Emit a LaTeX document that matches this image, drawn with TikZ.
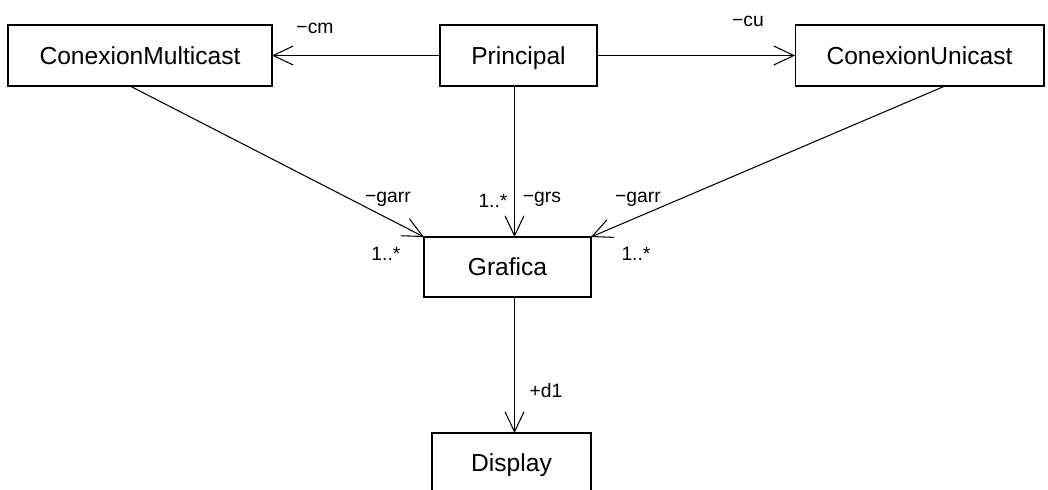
\documentclass[tikz,border=0pt]{standalone}
\usepackage{fontspec}
\setmainfont{Liberation Sans}
\usepackage{tikz}
\usetikzlibrary{arrows.meta,positioning,calc}

\begin{document}
\begin{tikzpicture}[x=0.02cm, y=-0.02cm,
    classbox/.style={draw, line width=0.6pt, inner sep=0pt, outer sep=0pt, minimum height=1.22cm,
        font=\fontsize{14}{16}\selectfont, text height=10pt, text depth=0pt},
    lbl/.style={anchor=base, inner sep=0pt, font=\fontsize{11}{13}\selectfont},
    assoc/.style={line width=0.6pt, -{Straight Barb[length=4mm, width=3.8mm]}}]
    \clip (0, 0) rectangle (1048, 490);
    
    \node[classbox, minimum width=5.28cm] (cm) at (140, 55.5) {ConexionMulticast};
    \node[classbox, minimum width=3.14cm] (pr) at (518.5, 55.5) {Principal};
    \node[classbox, minimum width=4.98cm] (cu) at (919.5, 55.5) {ConexionUnicast};
    \node[classbox, minimum width=3.34cm, minimum height=1.2cm] (gr) at (507.5, 267) {Grafica};
    \node[classbox, minimum width=3.18cm, minimum height=1.2cm] (dp) at (511.5, 463) {Display};
    \coordinate (mx) at (514.5, 0);
    
    \draw[assoc] (pr.west) -- (cm.east);
    \draw[assoc] (pr.east) -- (cu.west);
    \draw[assoc] ($(cm.south)+(-10, 0)$) -- (gr.north west);
    \draw[assoc] (pr.south -| mx) -- (gr.north -| mx);
    \draw[assoc] ($(cu.south)+(25.5, 0)$) -- (gr.north east);
    \draw[assoc] (gr.south -| mx) -- (dp.north -| mx);
    
    \node[lbl] (lcm) at (315, 33) {−cm};
    \node[lbl] (lcu) at (748, 27) {−cu};
    \node[lbl] (lgarrl) at (388, 202) {−garr};
    \node[lbl] (lgrs) at (542, 202) {−grs};
    \node[lbl] (lgarrr) at (638, 202) {−garr};
    \node[lbl] (mgrs) at (493, 207) {1..*};
    \node[lbl] (mgarrl) at (386, 260) {1..*};
    \node[lbl] (mgarrr) at (636, 260) {1..*};
    \node[lbl] (ld) at (546, 397) {+d1};
\end{tikzpicture}
\end{document}
